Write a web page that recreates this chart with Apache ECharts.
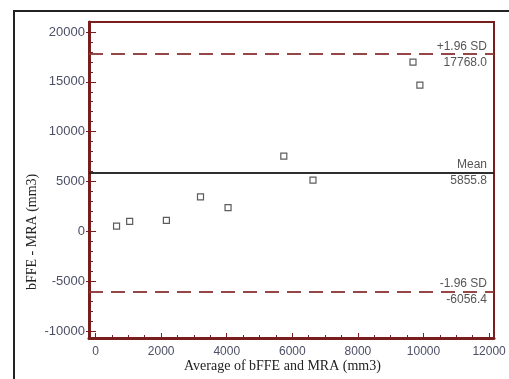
<!DOCTYPE html>
<html>
<head>
<meta charset="utf-8">
<script src="https://cdn.jsdelivr.net/npm/echarts@6/dist/echarts.min.js"></script>
<style>
  html, body { margin: 0; padding: 0; background: #fff; }
  #main { width: 509px; height: 379px; }
</style>
</head>
<body>
<div id="main"></div>
<script>
// Bland-Altman: average vs difference
const avgValues = [640, 1040, 2160, 3200, 4040, 5740, 6630, 9680, 9890]
const diffValues = [530, 1000, 1100, 3450, 2380, 7540, 5130, 16980, 14670]
const meanDiff = 5855.8
const upperLimit = 17768.0
const lowerLimit = -6056.4
const xTicks = [0, 2000, 4000, 6000, 8000, 10000, 12000]
const yTicks = [-10000, -5000, 0, 5000, 10000, 15000, 20000]
const xMinor = []
for (let v = 0; v <= 12000; v += 500) xMinor.push(v)
const yMinor = []
for (let v = -10000; v <= 20000; v += 1000) yMinor.push(v)

const points = avgValues.map((x, i) => [x, diffValues[i]])

const red = '#7a1d1d'
const dashRed = '#8e3b3b'
const labelColor = '#4c4f66'

const dom = echarts.init(document.getElementById('main'))

const baseX = {
  type: 'value',
  min: -200,
  max: 12150,
  position: 'bottom',
  splitLine: { show: false }
}
const baseY = {
  type: 'value',
  min: -10700,
  max: 21000,
  position: 'left',
  splitLine: { show: false }
}

function limitLine(value, top, bottom, color, type) {
  return [
    {
      yAxis: value,
      lineStyle: { color: color, type: type, width: 1.5 },
      label: { show: true, position: 'insideEndTop', formatter: top, color: '#555', fontSize: 12, distance: 2, padding: [0, 5, 0, 0] }
    },
    {
      yAxis: value,
      lineStyle: { color: color, type: type, width: 1.5 },
      label: { show: true, position: 'insideEndBottom', formatter: bottom, color: '#555', fontSize: 12, distance: 2, padding: [0, 5, 0, 0] }
    }
  ]
}

dom.setOption({
  animation: false,
  textStyle: { fontFamily: 'Liberation Sans' },
  grid: {
    left: 89, right: 15, top: 22, bottom: 41,
    show: true, borderColor: red, borderWidth: 2, backgroundColor: '#fff'
  },
  graphic: [
    {
      type: 'rect', left: 13, top: 10, z: -1,
      shape: { width: 620, height: 500 },
      style: { fill: '#fff', stroke: '#222', lineWidth: 2 }
    },
    {
      type: 'text', left: 184, top: 359,
      style: { text: 'Average of bFFE and MRA (mm3)', font: '14px "Liberation Serif"', fill: '#222' }
    },
    {
      type: 'text', rotation: Math.PI / 2, x: 25, y: 290,
      style: { text: 'bFFE - MRA (mm3)', font: '14px "Liberation Serif"', fill: '#222' }
    }
  ],
  xAxis: [
    Object.assign({}, baseX, {
      axisLine: { show: true, onZero: false, lineStyle: { color: red, width: 3 } },
      axisTick: { show: true, inside: true, length: 5, customValues: xTicks, lineStyle: { color: red } },
      axisLabel: { customValues: xTicks, color: labelColor, fontSize: 12, margin: 8, formatter: v => String(v) }
    }),
    Object.assign({}, baseX, {
      axisLine: { show: false, onZero: false },
      axisTick: { show: true, inside: true, length: 3, customValues: xMinor, lineStyle: { color: red } },
      axisLabel: { show: false }
    })
  ],
  yAxis: [
    Object.assign({}, baseY, {
      axisLine: { show: true, onZero: false, lineStyle: { color: red, width: 3 } },
      axisTick: { show: true, inside: false, length: 3, customValues: yTicks, lineStyle: { color: red } },
      axisLabel: { customValues: yTicks, color: labelColor, fontSize: 13, margin: 4, formatter: v => String(v) }
    }),
    Object.assign({}, baseY, {
      axisLine: { show: false, onZero: false },
      axisTick: { show: true, inside: true, length: 4, customValues: yMinor, lineStyle: { color: red } },
      axisLabel: { show: false }
    }),
    Object.assign({}, baseY, {
      axisLine: { show: false, onZero: false },
      axisTick: { show: true, inside: true, length: 7, customValues: yTicks, lineStyle: { color: red } },
      axisLabel: { show: false }
    })
  ],
  series: [
    {
      type: 'scatter',
      data: points,
      symbol: 'rect',
      symbolSize: 6,
      itemStyle: { color: '#fff', borderColor: '#333', borderWidth: 1.2 },
      markLine: {
        silent: true,
        symbol: 'none',
        data: []
          .concat(limitLine(upperLimit, '+1.96 SD', upperLimit.toFixed(1), dashRed, [14, 8]))
          .concat(limitLine(meanDiff, 'Mean', meanDiff.toFixed(1), '#222', 'solid'))
          .concat(limitLine(lowerLimit, '-1.96 SD', lowerLimit.toFixed(1), dashRed, [14, 8]))
      }
    }
  ]
})
</script>
</body>
</html>
